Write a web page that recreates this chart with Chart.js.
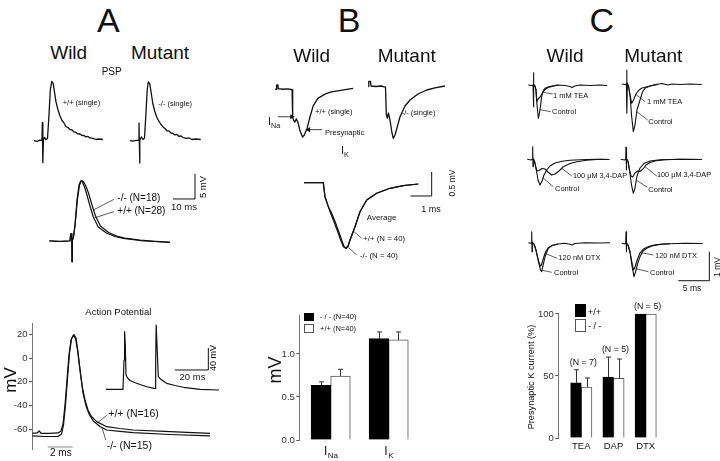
<!DOCTYPE html>
<html><head><meta charset="utf-8">
<script src="https://cdn.jsdelivr.net/npm/chart.js@4.4.0/dist/chart.umd.min.js"></script>
<style>
html,body{margin:0;padding:0;background:#fff;}
#fig{position:relative;width:720px;height:461px;overflow:hidden;font-family:"Liberation Sans",Arial,Helvetica,sans-serif;color:#111;}
#fig canvas{position:absolute;}
.t{position:absolute;white-space:nowrap;line-height:1;}
.t sub{font-size:0.65em;vertical-align:-0.35em;}
.sq{position:absolute;box-sizing:border-box;}
</style></head><body><div id="fig"></div>
<script>
// ================= DATA =================
// Panel A – PSP single traces (ms, mV)
const pspWildSingle = [[1.33,0],[2.33,-0.15],[3.33,0.1],[4.0,0.04],[4.1,3.33],[4.23,0.13],[4.33,-4.07],[4.47,0.13],[4.83,0.6],[5.33,0.22],[5.83,0.4],[6.33,4.76],[6.77,9.39],[7.23,10.96],[7.67,10.69],[8.17,9.0],[8.67,7.17],[9.33,5.69],[10,4.57],[10.67,3.74],[11.33,3.28],[12,2.63],[12.67,2.44],[13.33,2.07],[14,1.98],[14.67,1.61],[15.33,1.52],[16,1.24],[16.67,1.24],[17.33,0.96],[18,0.96],[18.67,0.69],[19.33,0.78],[20,0.5],[21,0.41],[22,0.22],[23,0.31],[24.33,0.22]];
const pspMutantSingle = [[1.0,0],[2.0,-0.09],[3.0,0.07],[3.9,0.04],[4.0,3.28],[4.1,0.13],[4.2,-4.13],[4.33,0.13],[4.77,0.69],[5.33,0.22],[5.83,0.5],[6.33,5.13],[6.73,9.39],[7.1,10.87],[7.57,10.59],[8.07,8.83],[8.57,6.98],[9.23,5.5],[9.9,4.39],[10.57,3.65],[11.33,3.0],[12,2.54],[12.67,2.26],[13.33,1.8],[14,1.8],[14.67,1.43],[15.33,1.33],[16,1.06],[16.67,1.15],[17.33,0.78],[18,0.87],[18.67,0.59],[19.67,0.41],[20.67,0.5],[21.67,0.22],[23,0.31],[24.57,0.22]];
// Panel A – averaged PSP (ms, mV)
const pspAvgWild = [[1.43,0],[5,-0.09],[8.33,0],[8.5,0.93],[8.73,1.39],[8.93,0.19],[9.0,-3.83],[9.13,0.19],[9.43,0.5],[10,2.96],[10.67,7.59],[11.33,10.37],[11.9,11.11],[12.5,10.93],[13.17,10.0],[13.9,8.7],[15,6.48],[16.1,4.44],[17.77,2.59],[20.57,1.43],[23.33,0.83],[26.1,0.5],[31.67,0.09],[36.67,-0.09],[41.67,-0.28]];
const pspAvgMutant = [[1.43,0.05],[5,-0.05],[8.33,0.05],[8.5,0.93],[8.73,1.39],[8.93,0.19],[9.0,-3.83],[9.13,0.19],[9.43,0.5],[10,2.8],[10.8,7.59],[11.5,10.37],[12.17,11.2],[12.83,11.02],[13.6,10.19],[14.5,8.89],[15.67,6.67],[16.83,4.63],[18.5,2.78],[21.17,1.57],[23.9,0.9],[26.6,0.55],[31.67,0.15],[36.67,-0.05],[41.67,-0.22]];
// Panel A – action potential (ms, mV)
const apTicks = [20, 0, -20, -40, -60];
const apWild = [[0.02,-63.7],[0.4,-63.3],[0.58,-61.6],[0.72,-63.7],[1.44,-63.7],[2.08,-63.3],[2.32,-61.6],[2.48,-55.8],[2.64,-39.6],[2.8,-18.4],[2.96,2.8],[3.12,15.5],[3.3,19.3],[3.48,17.2],[3.64,7.0],[3.84,-9.9],[4.04,-25.2],[4.24,-35.3],[4.48,-43.8],[4.72,-48.9],[5.18,-53.7],[5.98,-58.0],[7.02,-59.5],[8.1,-60.8],[11.04,-62.2],[14.24,-63.7]];
const apMutant = [[0.02,-65.8],[1.04,-66.3],[2.08,-66.3],[2.36,-64.2],[2.52,-56.6],[2.68,-39.6],[2.84,-16.8],[3.0,4.5],[3.16,16.4],[3.34,20.2],[3.52,17.2],[3.68,5.3],[3.88,-13.3],[4.08,-29.4],[4.32,-40.4],[4.6,-48.1],[4.9,-53.1],[5.44,-57.8],[5.98,-60.8],[7.04,-62.0],[8.1,-63.1],[11.04,-64.6],[14.24,-65.8]];
// Panel A – inset spike train (ms, mV relative to rest)
const apTrain = [[3.6,0],[9,-0.3],[13.8,0],[14.4,51],[14.76,100.2],[15.18,77],[15.6,24.9],[16.8,18.8],[18,15.3],[19.98,12.7],[24,8.3],[28,4.5],[32.4,1.7],[33.18,1.4],[33.4,51],[33.72,111.8],[34.2,77],[34.98,21.9],[36.6,17],[40,10.4],[45,6.6],[50,3.5],[60,0],[71.4,-1.2]];
// Panel B – single presynaptic currents (ms, mV)
const bWildSingle = [[0.476,-0.011],[0.538,-0.011],[0.552,0.102],[0.619,0.102],[0.633,0],[0.714,0],[0.857,-0.011],[1.048,0],[1.238,-0.011],[1.348,-0.023],[1.381,-0.727],[1.429,-0.795],[1.49,-0.848],[1.571,-0.761],[1.652,-0.848],[1.762,-1.068],[1.89,-1.227],[1.976,-1.182],[2.129,-1.0],[2.286,-0.698],[2.443,-0.432],[2.681,-0.243],[3.081,-0.13],[3.381,-0.08],[3.714,-0.052],[4.095,-0.023],[4.51,0.011]];
const bMutantSingle = [[0.395,-0.011],[0.419,0.102],[0.5,0.102],[0.524,0],[0.762,-0.011],[1.0,0],[1.214,-0.023],[1.252,-0.636],[1.3,-0.727],[1.357,-0.614],[1.429,-0.773],[1.524,-1.068],[1.586,-1.189],[1.667,-1.114],[1.786,-0.909],[1.905,-0.698],[2.143,-0.455],[2.381,-0.318],[2.762,-0.182],[3.176,-0.091],[3.571,-0.045],[4.048,0]];
// Panel B – averaged currents (ms, mV)
const bAvgWild = [[0.19,0],[1.11,0],[1.19,-0.318],[1.348,-0.545],[1.429,-0.659],[1.586,-0.848],[1.824,-1.15],[1.952,-1.325],[2.062,-1.45],[2.176,-1.491],[2.286,-1.439],[2.381,-1.302],[2.619,-1.0],[2.857,-0.659],[3.176,-0.393],[3.652,-0.241],[4.286,-0.127],[4.919,-0.068],[5.633,-0.03]];
const bAvgMutant = [[0.19,0],[1.11,0],[1.19,-0.318],[1.348,-0.545],[1.476,-0.659],[1.643,-0.848],[1.871,-1.15],[2.0,-1.325],[2.095,-1.45],[2.2,-1.5],[2.3,-1.43],[2.381,-1.302],[2.619,-1.0],[2.857,-0.659],[3.176,-0.393],[3.652,-0.241],[4.286,-0.127],[4.919,-0.068],[5.633,-0.03]];
// Panel B – bar chart (mV)
const bCats = ['Na', 'K'];
const bTicks = [0, 0.5, 1.0];
const bMutant = [0.636, 1.178], bMutantErr = [0.04, 0.078];
const bWild = [0.744, 1.163], bWildErr = [0.078, 0.093];
// Panel C – traces (ms, mV)
const cTeaWildCtrl = [[0.53,0],[1.13,-0.017],[1.29,0],[1.34,0.424],[1.39,-0.748],[1.45,0.034],[1.61,-0.034],[1.77,-0.172],[1.94,-0.69],[2.15,-1.148],[2.37,-0.931],[2.69,-0.403],[2.95,-0.19],[3.23,-0.114],[3.71,-0.069],[4.35,-0.034],[5.32,0],[6.45,-0.017],[7.26,-0.052],[7.58,-0.086],[8.06,-0.034],[8.87,0],[10.48,-0.017],[12.1,0],[13.27,-0.017]];
const cTeaWildDrug = [[1.61,-0.034],[1.77,-0.172],[1.89,-0.576],[2.1,-0.483],[2.42,-0.414],[2.82,-0.276],[3.23,-0.155],[3.71,-0.086],[4.35,-0.052],[5.32,0]];
const cTeaMutCtrl = [[0.6,0],[1.21,-0.017],[1.35,0],[1.4,0.483],[1.45,-1.01],[1.52,0.034],[1.69,-0.069],[1.94,-0.379],[2.18,-1.069],[2.47,-1.645],[2.74,-1.414],[3.06,-0.897],[3.55,-0.552],[3.95,-0.276],[4.35,-0.148],[5.16,-0.069],[6.13,-0.017],[7.1,0.017],[8.06,-0.034],[8.71,0],[10,-0.017],[11.6,0],[13.5,-0.017]];
const cTeaMutDrug = [[1.69,-0.069],[1.94,-0.379],[2.21,-0.666],[2.5,-0.552],[2.9,-0.345],[3.39,-0.207],[3.87,-0.138],[4.52,-0.103],[5.48,-0.052],[6.45,-0.017]];
const cDapWildCtrl = [[0.37,0],[0.97,-0.024],[1.19,0],[1.24,0.434],[1.29,-0.255],[1.35,0.028],[1.53,-0.059],[1.77,-0.3],[2.1,-0.714],[2.42,-0.886],[2.74,-0.748],[3.06,-0.541],[3.5,-0.369],[4.03,-0.231],[4.84,-0.128],[5.97,-0.069],[7.26,-0.034],[8.87,-0.017],[11.29,0],[13.6,-0.007]];
const cDapWildDrug = [[1.53,-0.059],[1.77,-0.3],[1.94,-0.403],[2.26,-0.386],[2.74,-0.317],[3.23,-0.334],[3.71,-0.438],[4.31,-0.541],[4.84,-0.507],[5.48,-0.403],[6.18,-0.255],[7.26,-0.145],[8.34,-0.083],[9.95,-0.031],[12.1,0],[13.6,-0.007]];
const cDapMutCtrl = [[0.44,0],[1.05,-0.024],[1.24,0],[1.29,0.414],[1.34,-0.369],[1.4,0.028],[1.61,-0.059],[1.85,-0.369],[2.18,-0.886],[2.47,-1.172],[2.74,-0.99],[3.06,-0.576],[3.55,-0.3],[4.19,-0.145],[5.16,-0.059],[6.77,-0.017],[10,0],[13.55,-0.007]];
const cDapMutDrug = [[1.61,-0.059],[1.85,-0.369],[2.1,-0.576],[2.37,-0.61],[2.74,-0.472],[3.15,-0.403],[3.55,-0.421],[4.03,-0.334],[4.52,-0.197],[5.16,-0.11],[6.13,-0.052],[7.58,-0.017],[10,0],[13.55,-0.007]];
const cDtxWildCtrl = [[0.53,0],[0.89,-0.021],[1.03,0],[1.08,0.379],[1.13,-0.31],[1.19,0.024],[1.45,-0.045],[1.77,-0.252],[2.18,-0.666],[2.5,-0.941],[2.69,-1.0],[2.9,-0.803],[3.23,-0.483],[3.76,-0.193],[4.35,-0.097],[5.32,-0.045],[6.45,-0.017],[7.26,-0.052],[7.58,-0.079],[8.06,-0.028],[9.68,0],[12.1,-0.01],[13.71,0]];
const cDtxWildDrug = [[1.45,-0.045],[1.77,-0.252],[2.18,-0.631],[2.47,-0.803],[2.66,-0.769],[2.98,-0.528],[3.31,-0.321],[3.79,-0.166],[4.52,-0.09],[5.32,-0.045]];
const cDtxMutCtrl = [[0.6,0],[1.05,-0.024],[1.24,0],[1.29,0.4],[1.34,-0.29],[1.4,0.028],[1.61,-0.059],[1.94,-0.3],[2.26,-0.783],[2.58,-1.152],[2.82,-0.99],[3.15,-0.714],[3.55,-0.462],[4.03,-0.266],[4.63,-0.172],[5.48,-0.093],[6.77,-0.041],[8.39,-0.014],[10.81,0],[13.66,-0.007]];
const cDtxMutDrug = [[1.61,-0.059],[1.94,-0.3],[2.26,-0.679],[2.5,-0.921],[2.74,-0.817],[3.15,-0.541],[3.55,-0.334],[4.11,-0.197],[4.84,-0.121],[5.81,-0.059],[7.1,-0.024],[8.39,-0.014]];
// Panel C – bar chart (% of presynaptic K current)
const cCats = ['TEA', 'DAP', 'DTX'];
const cTicks = [0, 50, 100];
const cWild = [44.4, 49.2, 100], cWildErr = [10.6, 16.1, 0];
const cMutant = [41.1, 48.1, 100], cMutantErr = [7.3, 15.6, 0];
const cN = ['(N = 7)', '(N = 5)', '(N = 5)'];
// Scale bars and label leader lines (in each panel's units)
const pspScaleBar = [[42.67,12.41],[42.67,12.41]];
const pspBar = [[42.67,7.78],[50,7.78],[50,12.41]];
const pspLeadMut = [[16.1,5.74],[23,7.72]], pspLeadWild = [[16.5,4.3],[23,5.43]];
const apTimeBar = [[1.26,-75.2],[3.26,-75.2]];
const apLeadWild = [[5.3,-54.3],[6.02,-48.05]], apLeadMut = [[5.6,-58.8],[5.9,-69.2]];
const trainBar = [[45,33.6],[65,33.6],[65,71.8]];
const bArrowNa = [[0.619,-0.711],[1.333,-0.711]], bArrowK = [[2.905,-1.039],[2.205,-1.039]];
const bBar = [[5.262,-0.302],[6.27,-0.302],[6.27,0.243]];
const bLeadWild = [[2.538,-1.1],[2.938,-1.264]], bLeadMut = [[2.3,-1.47],[2.7,-1.643]];
const cBar = [[9.73,-1.29],[14.73,-1.29],[14.73,-0.29]];

// ================= HELPERS =================
const fig = document.getElementById('fig');
const FONT = '"Liberation Sans", Arial, Helvetica, sans-serif';
function mkCanvas(l, t, w, h) {
  const c = document.createElement('canvas');
  c.width = w; c.height = h;
  c.style.left = l + 'px'; c.style.top = t + 'px';
  c.style.width = w + 'px'; c.style.height = h + 'px';
  fig.appendChild(c);
  return c;
}
function ds(data, o) {
  o = o || {};
  const n = data.length;
  return {
    data: data, borderColor: o.color || '#111', borderWidth: o.w || 1.3,
    pointRadius: o.arrow !== undefined ? (c => c.dataIndex === n - 1 ? 3 : 0) : 0,
    pointStyle: 'triangle', rotation: o.arrow || 0,
    pointBackgroundColor: '#111', pointBorderWidth: 0,
    tension: 0, fill: false, clip: false, borderJoinStyle: 'round'
  };
}
function traceChart(l, t, w, h, xr, yr, sets) {
  return new Chart(mkCanvas(l, t, w, h), {
    type: 'line',
    data: { datasets: sets },
    options: {
      responsive: false, animation: false, devicePixelRatio: 1, events: [],
      layout: { padding: 0 },
      plugins: { legend: { display: false }, tooltip: { enabled: false } },
      scales: {
        x: { type: 'linear', display: false, min: xr[0], max: xr[1] },
        y: { type: 'linear', display: false, min: yr[0], max: yr[1] }
      }
    }
  });
}
function txt(html, x, y, size, mode) {
  const d = document.createElement('div');
  d.className = 't'; d.innerHTML = html;
  d.style.left = x + 'px'; d.style.top = y + 'px'; d.style.fontSize = size + 'px';
  d.style.transform = mode === 'l' ? 'translate(0,-50%)' :
    mode === 'v' ? 'translate(-50%,-50%) rotate(-90deg)' : 'translate(-50%,-50%)';
  fig.appendChild(d);
}
function sq(l, t, w, h, black) {
  const d = document.createElement('div');
  d.className = 'sq';
  d.style.cssText += `left:${l}px;top:${t}px;width:${w}px;height:${h}px;background:${black ? '#000' : '#fff'};border:1px solid ${black ? '#000' : '#555'};`;
  fig.appendChild(d);
}
const yAxisStyle = (w, ticks, fmt) => ({
  type: 'linear', display: true,
  afterFit(s) { s.width = w; },
  afterBuildTicks(s) { s.ticks = ticks.map(v => ({ value: v })); },
  ticks: { font: { size: 9.5, family: FONT }, color: '#333', padding: 1.5, callback: fmt },
  grid: { display: true, drawOnChartArea: false, drawTicks: true, tickLength: 3, color: '#555', lineWidth: 1 },
  border: { display: true, color: '#777', width: 1 }
});
const barDecor = {
  id: 'barDecor',
  afterDatasetsDraw(chart, args, o) {
    const { ctx, chartArea } = chart, x = chart.scales.x, y = chart.scales.y;
    ctx.save();
    ctx.strokeStyle = '#333'; ctx.lineWidth = 1;
    chart.data.datasets.forEach((d, i) => {
      chart.getDatasetMeta(i).data.forEach((bar, j) => {
        const e = d.errors[j];
        if (!e) return;
        const bx = Math.round(bar.x) + 0.5;
        const top = y.getPixelForValue(d.data[j].y + e);
        ctx.beginPath();
        ctx.moveTo(bx, bar.y); ctx.lineTo(bx, top);
        ctx.moveTo(bx - 2.5, top); ctx.lineTo(bx + 2.5, top);
        ctx.stroke();
      });
    });
    ctx.fillStyle = '#111'; ctx.textBaseline = 'middle';
    o.cats.forEach((c, j) => {
      const cx = x.getPixelForValue(j + 1), cy = chartArea.bottom + o.catDy;
      if (o.sub) {
        ctx.font = o.mainFont; const w1 = ctx.measureText('I').width;
        ctx.font = o.subFont; const w2 = ctx.measureText(c).width;
        const x0 = cx - (w1 + w2) / 2;
        ctx.textAlign = 'left';
        ctx.font = o.mainFont; ctx.fillText('I', x0, cy);
        ctx.font = o.subFont; ctx.fillText(c, x0 + w1 + 0.5, cy + 3.5);
      } else {
        ctx.font = o.mainFont; ctx.textAlign = 'center'; ctx.fillText(c, cx, cy);
      }
      if (o.n) {
        let top = Infinity;
        chart.data.datasets.forEach(d => { top = Math.min(top, y.getPixelForValue(d.data[j].y + (d.errors[j] || 0))); });
        ctx.font = o.nFont; ctx.textAlign = 'center';
        ctx.fillText(o.n[j], cx + 2, top - 7);
      }
    });
    ctx.restore();
  }
};
function barSet(vals, errs, black, thick) {
  return {
    data: vals.map((v, i) => ({ x: i + 1, y: v })), errors: errs,
    backgroundColor: black ? '#000' : '#fff', borderColor: black ? '#000' : '#555',
    borderWidth: 1, barThickness: thick
  };
}

// ================= PANEL A =================
traceChart(30, 70, 80, 100, [0, 26.67], [-5.43, 13.09], [ds(pspWildSingle)]);
traceChart(127, 70, 80, 100, [0, 26.67], [-5.43, 13.09], [ds(pspMutantSingle)]);
traceChart(45, 165, 165, 100, [0, 55], [-4.44, 14.07], [
  ds(pspAvgMutant, { w: 1.2 }), ds(pspAvgWild, { w: 1.2 }),
  ds(pspBar, { w: 1 }), ds(pspLeadMut, { w: 0.8, color: '#333' }), ds(pspLeadWild, { w: 0.8, color: '#333' })
]);
new Chart(mkCanvas(0, 315, 215, 142), {
  type: 'line',
  data: { datasets: [ds(apWild, { w: 1.2 }), ds(apMutant, { w: 1.2 }), ds(apTimeBar, { w: 1, color: '#888' }),
    ds(apLeadWild, { w: 0.8, color: '#333' }), ds(apLeadMut, { w: 0.8, color: '#333' })] },
  options: {
    responsive: false, animation: false, devicePixelRatio: 1, events: [],
    layout: { padding: { top: 8, bottom: 8, left: 0, right: 0 } },
    plugins: { legend: { display: false }, tooltip: { enabled: false } },
    scales: {
      x: { type: 'linear', display: false, min: 0, max: 14.64 },
      y: Object.assign(yAxisStyle(32, apTicks), { min: -76.9, max: 29.9 })
    }
  }
});
traceChart(100, 318, 120, 80, [0, 72], [-15.13, 124], [ds(apTrain, { w: 1.2 }), ds(trainBar, { w: 1 })]);

txt('A', 108.3, 19.5, 34, 'c');
txt('Wild', 68.7, 51.7, 19, 'c'); txt('Mutant', 160, 51.7, 19, 'c');
txt('PSP', 111.7, 72.3, 10, 'c');
txt('+/+ (single)', 62.7, 103.3, 7.5, 'l');
txt('-/- (single)', 158.3, 104, 7.5, 'l');
txt('-/- (N=18)', 117.3, 197.7, 10, 'l');
txt('+/+ (N=28)', 117.3, 210.7, 10, 'l');
txt('10 ms', 184, 206.7, 9.5, 'c');
txt('5 mV', 203, 187, 9.5, 'v');
txt('Action Potential', 118.3, 311.7, 9.5, 'c');
txt('mV', 10, 380, 17, 'v');
txt('+/+ (N=16)', 108.3, 413.3, 10.5, 'l');
txt('-/- (N=15)', 106.7, 445, 10.5, 'l');
txt('2 ms', 60.8, 453.3, 10, 'c');
txt('40 mV', 212.5, 358, 9, 'v');
txt('20 ms', 192.5, 377.3, 9.5, 'c');

// ================= PANEL B =================
traceChart(262, 75, 100, 75, [0, 4.762], [-1.4545, 0.25], [
  ds(bWildSingle), ds(bArrowNa, { w: 0.8, arrow: 90 }), ds(bArrowK, { w: 0.8, arrow: -90 })
]);
traceChart(360, 75, 90, 75, [0, 4.286], [-1.4545, 0.25], [ds(bMutantSingle)]);
traceChart(300, 170, 160, 95, [0, 7.619], [-1.8705, 0.2886], [
  ds(bAvgMutant, { w: 1.2 }), ds(bAvgWild, { w: 1.2 }), ds(bBar, { w: 1 }),
  ds(bLeadWild, { w: 0.8, color: '#333' }), ds(bLeadMut, { w: 0.8, color: '#333' })
]);
new Chart(mkCanvas(270, 305, 150, 155), {
  type: 'bar',
  data: { datasets: [barSet(bMutant, bMutantErr, true, 19.6), barSet(bWild, bWildErr, false, 19.6)] },
  options: {
    responsive: false, animation: false, devicePixelRatio: 1, events: [],
    layout: { padding: { top: 10, bottom: 20, left: 0, right: 0 } },
    plugins: { legend: { display: false }, tooltip: { enabled: false },
      barDecor: { cats: bCats, sub: true, catDy: 12, mainFont: '12px ' + FONT, subFont: '8px ' + FONT } },
    scales: {
      x: { type: 'linear', display: false, offset: false, min: 0.459, max: 2.540 },
      y: Object.assign(yAxisStyle(29.3, bTicks, v => v.toFixed(1)), { min: 0, max: 1.453 })
    }
  },
  plugins: [barDecor]
});

txt('B', 349, 19.5, 34, 'c');
txt('Wild', 311.7, 55, 19, 'c'); txt('Mutant', 406.7, 55, 19, 'c');
txt('+/+ (single)', 315, 111.7, 7.5, 'l');
txt('-/- (single)', 401.7, 113.3, 7.5, 'l');
txt('I<sub>Na</sub>', 268, 123, 11, 'l');
txt('Presynaptic', 325, 132.7, 7.5, 'l');
txt('I<sub>K</sub>', 341, 152, 11, 'l');
txt('Average', 366.7, 217.7, 8, 'l');
txt('+/+ (N = 40)', 363.3, 239.3, 7.8, 'l');
txt('-/- (N = 40)', 360, 256, 7.8, 'l');
txt('1 ms', 431, 209, 9, 'c');
txt('0.5 mV', 451.5, 183, 8.5, 'v');
sq(304.3, 312.7, 10, 8.5, true); sq(304.3, 324.3, 10, 8.5, false);
txt('- / - (N=40)', 320, 317, 7.5, 'l');
txt('+/+ (N=40)', 320, 328.5, 7.5, 'l');
txt('mV', 275, 370, 18, 'v');

// ================= PANEL C =================
const lead = d => ds(d, { w: 0.8, color: '#333' });
traceChart(525, 65, 88, 75, [0, 14.19], [-1.897, 0.69], [
  ds(cTeaWildCtrl, { w: 1.1 }), ds(cTeaWildDrug, { w: 1.1 }), lead([[2.9,-0.25],[4.47,-0.31]]), lead([[2.42,-0.85],[4.15,-0.921]])
]);
traceChart(618, 65, 96, 75, [0, 15.48], [-1.931, 0.655], [
  ds(cTeaMutCtrl, { w: 1.1 }), ds(cTeaMutDrug, { w: 1.1 }), lead([[2.9,-0.36],[4.35,-0.61]]), lead([[3.02,-0.955],[4.79,-1.241]])
]);
traceChart(525, 140, 88, 65, [0, 14.19], [-1.576, 0.666], [
  ds(cDapWildCtrl, { w: 1.1 }), ds(cDapWildDrug, { w: 1.1 }), lead([[5.92,-0.31],[7.53,-0.576]]), lead([[2.9,-0.645],[4.56,-0.945]])
]);
traceChart(618, 140, 96, 65, [0, 15.48], [-1.576, 0.666], [
  ds(cDapMutCtrl, { w: 1.1 }), ds(cDapMutDrug, { w: 1.1 }), lead([[4.35,-0.25],[6.24,-0.576]]), lead([[2.95,-0.72],[4.73,-0.966]])
]);
traceChart(525, 222, 88, 63, [0, 14.19], [-1.459, 0.714], [
  ds(cDtxWildCtrl, { w: 1.1 }), ds(cDtxWildDrug, { w: 1.1 }), lead([[3.23,-0.37],[5.21,-0.538]]), lead([[2.74,-0.95],[4.31,-1.021]])
]);
traceChart(618, 222, 96, 63, [0, 15.48], [-1.438, 0.734], [
  ds(cDtxMutCtrl, { w: 1.1 }), ds(cDtxMutDrug, { w: 1.1 }), lead([[3.6,-0.32],[5.69,-0.403]]), lead([[2.95,-0.88],[4.89,-0.979]]),
  ds(cBar, { w: 1 })
]);
new Chart(mkCanvas(536, 300, 130, 158), {
  type: 'bar',
  data: { datasets: [barSet(cWild, cWildErr, true, 10.65), barSet(cMutant, cMutantErr, false, 10.65)] },
  options: {
    responsive: false, animation: false, devicePixelRatio: 1, events: [],
    layout: { padding: { top: 13, bottom: 20, left: 0, right: 0 } },
    plugins: { legend: { display: false }, tooltip: { enabled: false },
      barDecor: { cats: cCats, n: cN, catDy: 8, mainFont: '9.5px ' + FONT, nFont: '8.8px ' + FONT } },
    scales: {
      x: { type: 'linear', display: false, offset: false, min: 0.286, max: 3.631 },
      y: Object.assign(yAxisStyle(22.3, cTicks), { min: 0, max: 100.8 })
    }
  },
  plugins: [barDecor]
});

txt('C', 601.7, 20, 34, 'c');
txt('Wild', 565, 55, 19, 'c'); txt('Mutant', 653.3, 55, 19, 'c');
txt('1 mM TEA', 553, 95.5, 7.5, 'l'); txt('Control', 552, 112.3, 7.5, 'l');
txt('1 mM TEA', 647, 102.2, 7.5, 'l'); txt('Control', 648.3, 121.7, 7.5, 'l');
txt('100 μM 3,4-DAP', 573, 176, 7.3, 'l'); txt('Control', 555, 189, 7.5, 'l');
txt('100 μM 3,4-DAP', 657, 175.3, 7.3, 'l'); txt('Control', 648.3, 190, 7.5, 'l');
txt('120 nM DTX', 558.3, 258.3, 7.5, 'l'); txt('Control', 554, 273.3, 7.5, 'l');
txt('120 nM DTX', 655, 255.5, 7.5, 'l'); txt('Control', 650, 273.3, 7.5, 'l');
txt('1 mV', 716.7, 266.7, 8.5, 'v'); txt('5 ms', 692, 288.3, 8.5, 'c');
txt('Presynaptic K current (%)', 532.3, 376.7, 9.2, 'v');
sq(575, 304, 11, 12.7, true); sq(575, 319.3, 11, 12.4, false);
txt('+/+', 588, 311.7, 9, 'l'); txt('- / -', 588, 326, 9, 'l');
</script></body></html>
